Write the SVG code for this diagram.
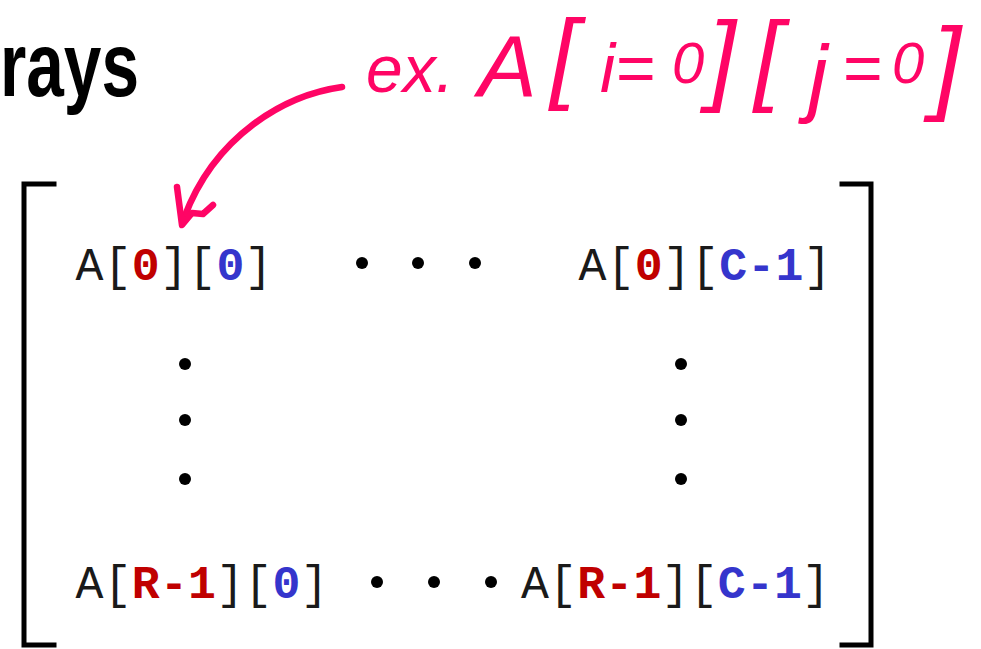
<svg xmlns="http://www.w3.org/2000/svg" width="981" height="649" viewBox="0 0 981 649">
<style>
.mono{font-family:"Liberation Mono","Courier New",monospace;font-size:46.5px;fill:#1a1a1a}
.r{fill:#C00000;font-weight:bold}
.b{fill:#3535CC;font-weight:bold}
.brk{fill:none;stroke:#000;stroke-width:5;stroke-linecap:square}
.dot{fill:#000}
.ink{fill:none;stroke:#FF0565;stroke-width:6.5;stroke-linecap:round;stroke-linejoin:round}
.hand{font-family:"Liberation Sans","DejaVu Sans",sans-serif;font-style:italic;fill:#FF0565}
</style>
<rect width="981" height="649" fill="#fff"/>
<g id="title">
<text x="0" y="96" font-family="'Liberation Sans Narrow','Liberation Sans',sans-serif" font-weight="bold" font-size="90" textLength="139" lengthAdjust="spacingAndGlyphs" fill="#000">rays</text>
</g>
<g id="matrix-brackets">
<path class="brk" d="M54,184 L24,184 L24,645 L54,645"/>
<path class="brk" d="M842,184 L871,184 L871,645 L842,645"/>
</g>
<g id="cell-0-0"><text class="mono" x="75.5" y="280" textLength="197" lengthAdjust="spacing">A[<tspan class="r">0</tspan>][<tspan class="b">0</tspan>]</text></g>
<g id="cell-0-C"><text class="mono" x="578.5" y="280" textLength="253" lengthAdjust="spacing">A[<tspan class="r">0</tspan>][<tspan class="b">C-1</tspan>]</text></g>
<g id="cell-R-0"><text class="mono" x="75.5" y="598" textLength="253" lengthAdjust="spacing">A[<tspan class="r">R-1</tspan>][<tspan class="b">0</tspan>]</text></g>
<g id="cell-R-C"><text class="mono" x="521" y="598" textLength="309" lengthAdjust="spacing">A[<tspan class="r">R-1</tspan>][<tspan class="b">C-1</tspan>]</text></g>
<g id="ellipses">
<circle class="dot" cx="362" cy="263" r="6"/>
<circle class="dot" cx="418" cy="263" r="6"/>
<circle class="dot" cx="475" cy="263" r="6"/>
<circle class="dot" cx="185" cy="364" r="6"/>
<circle class="dot" cx="185" cy="420" r="6"/>
<circle class="dot" cx="185" cy="479" r="6"/>
<circle class="dot" cx="681" cy="364" r="6"/>
<circle class="dot" cx="681" cy="420" r="6"/>
<circle class="dot" cx="681" cy="479" r="6"/>
<circle class="dot" cx="377" cy="582" r="6"/>
<circle class="dot" cx="434" cy="582" r="6"/>
<circle class="dot" cx="491" cy="582" r="6"/>
</g>
<g id="annotation">
<text class="hand"><tspan x="366" y="92" font-size="66">ex. </tspan><tspan x="478" y="97" font-size="88">A</tspan><tspan x="550" y="90" font-size="100">[</tspan><tspan x="600" y="92" font-size="68">i=</tspan><tspan x="672" y="83" font-size="58">0</tspan><tspan x="708" y="92" font-size="100">]</tspan><tspan x="754" y="92" font-size="100">[</tspan><tspan x="808" y="106" font-size="88">j</tspan><tspan x="842" y="92" font-size="68">=</tspan><tspan x="892" y="83" font-size="58">0</tspan><tspan x="932" y="100" font-size="104">]</tspan></text>
</g>
<g id="connectors">
<path class="ink" d="M342,87 C285,95 215,135 184,218"/>
<path class="ink" d="M177,187 L182,225 L192,213 L203,214 L213,205"/>
</g>
</svg>
